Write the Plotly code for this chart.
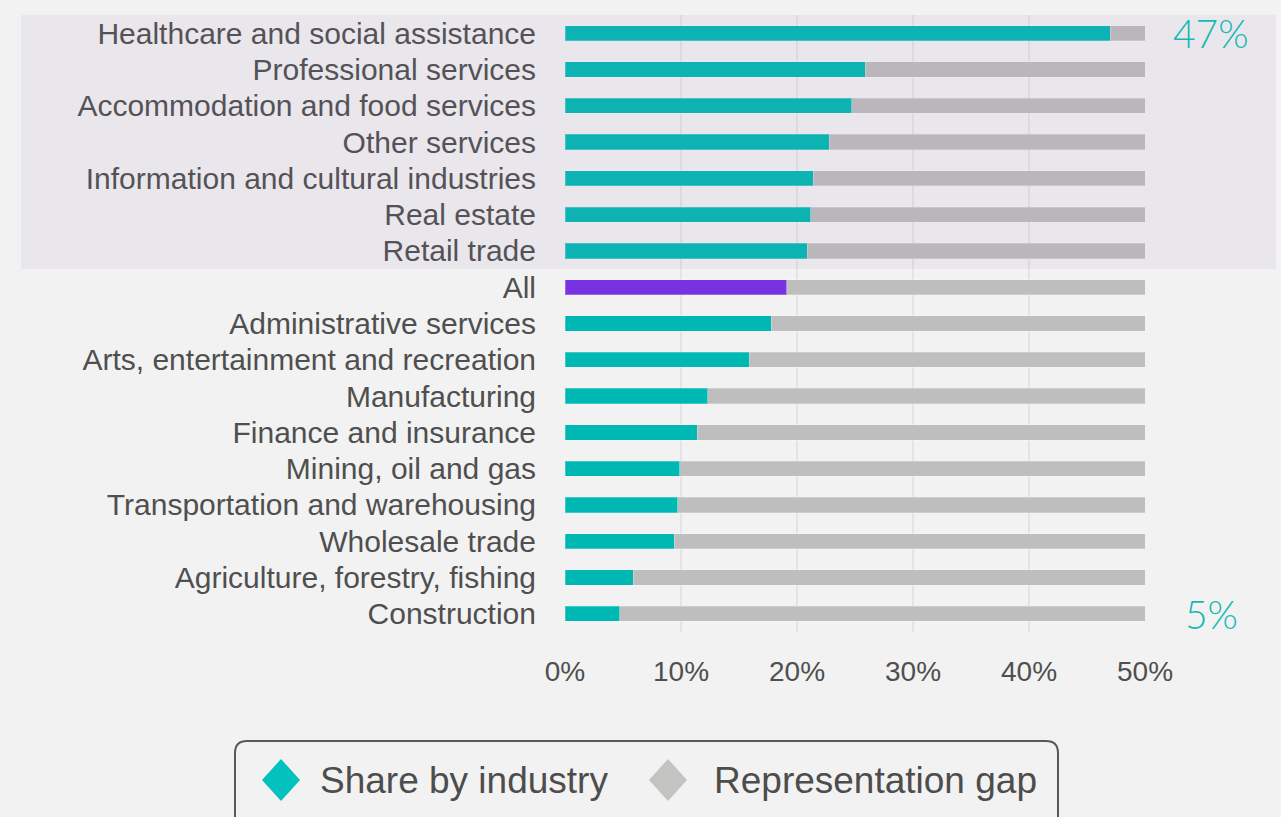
import plotly.graph_objects as go

categories = [
    "Healthcare and social assistance", "Professional services", "Accommodation and food services",
    "Other services", "Information and cultural industries", "Real estate", "Retail trade", "All",
    "Administrative services", "Arts, entertainment and recreation", "Manufacturing",
    "Finance and insurance", "Mining, oil and gas", "Transportation and warehousing",
    "Wholesale trade", "Agriculture, forestry, fishing", "Construction",
]
share = [47.0, 25.9, 24.7, 22.8, 21.4, 21.2, 20.9, 19.1, 17.8, 15.9, 12.3, 11.4, 9.9, 9.7, 9.4, 5.9, 4.7]
total = 50
gap = [round(total - s, 1) for s in share]
x_ticks = [0, 10, 20, 30, 40, 50]
x_tick_labels = ["0%", "10%", "20%", "30%", "40%", "50%"]
callouts = [("Healthcare and social assistance", "47%"), ("Construction", "5%")]
legend_names = ["Share by industry", "Representation gap"]

TEAL = "#00b8b3"
PURPLE = "#7733e2"
GRAY = "#bebebe"
W, H = 1281, 817
L, R, T, B = 565, 136, 15, 185
pw, ph = W - L - R, H - T - B
n = len(categories)

def px_x(p):
    return (p - L) / pw

def px_y(p):
    return (H - B - p) / ph

share_colors = [PURPLE if c == "All" else TEAL for c in categories]

fig = go.Figure()
fig.add_trace(go.Bar(
    y=categories, x=share, orientation="h", name=legend_names[0],
    marker=dict(color=share_colors, line=dict(color="rgba(255,255,255,0.25)", width=1)),
    showlegend=False, hoverinfo="x+y",
))
fig.add_trace(go.Bar(
    y=categories, x=gap, orientation="h", name=legend_names[1],
    marker=dict(color=GRAY, line=dict(color="rgba(255,255,255,0.25)", width=1)),
    showlegend=False, hoverinfo="x+y",
))

# shaded overlay for top group
fig.add_shape(type="rect", xref="paper", yref="y",
              x0=px_x(21), x1=px_x(1276), y0=6.5, y1=-0.5 - (T - 4) / (ph / n),
              fillcolor="rgba(140,125,180,0.09)", line=dict(width=0), layer="above")

# rounded legend box
x0, x1, y0, y1, r = 235, 1058, 741, 830, 12
path = (f"M {px_x(x0 + r)} {px_y(y0)} L {px_x(x1 - r)} {px_y(y0)} "
        f"Q {px_x(x1)} {px_y(y0)} {px_x(x1)} {px_y(y0 + r)} "
        f"L {px_x(x1)} {px_y(y1)} L {px_x(x0)} {px_y(y1)} L {px_x(x0)} {px_y(y0 + r)} "
        f"Q {px_x(x0)} {px_y(y0)} {px_x(x0 + r)} {px_y(y0)} Z")
fig.add_shape(type="path", xref="paper", yref="paper", path=path,
              line=dict(color="#595959", width=2), fillcolor="rgba(0,0,0,0)")

# legend diamonds + labels
legend_items = [(legend_names[0], "#03c1bc", 281, 318), (legend_names[1], "#c3c3c1", 668, 712)]
cy = 780
for name, col, cx, tx in legend_items:
    hw, hh = 19, 21
    d = (f"M {px_x(cx)} {px_y(cy - hh)} L {px_x(cx + hw)} {px_y(cy)} "
         f"L {px_x(cx)} {px_y(cy + hh)} L {px_x(cx - hw)} {px_y(cy)} Z")
    fig.add_shape(type="path", xref="paper", yref="paper", path=d,
                  fillcolor=col, line=dict(width=0))
    fig.add_annotation(x=px_x(tx), y=px_y(cy), xref="paper", yref="paper", text=name,
                       showarrow=False, xanchor="left", yanchor="middle",
                       font=dict(size=37, color="#4d4d4d"))

for cat, txt in callouts:
    fig.add_annotation(x=px_x(1211), xref="paper", y=cat, yref="y", text=txt, showarrow=False,
                       font=dict(family="Lato, Open Sans, sans-serif", size=39, color="#14b9b4", weight=300),
                       xanchor="center", yanchor="middle")

fig.update_layout(
    width=W, height=H,
    barmode="stack", bargap=0.58,
    paper_bgcolor="#f2f2f2", plot_bgcolor="#f2f2f2",
    margin=dict(l=L, r=R, t=T, b=B, autoexpand=False),
    font=dict(family="Liberation Sans, Arial, sans-serif", size=30, color="#4f4f4f"),
    xaxis=dict(range=[0, total], tickvals=x_ticks, ticktext=x_tick_labels, showgrid=True,
               gridcolor="#e4e4e4", gridwidth=2, zeroline=False, showline=False,
               ticklabelstandoff=20, tickfont=dict(size=28), fixedrange=True),
    yaxis=dict(categoryorder="array", categoryarray=categories, range=[n - 0.5, -0.5],
               autorange=False, showgrid=False, ticklabelstandoff=28, showline=False,
               fixedrange=True),
    showlegend=False,
)

fig.write_html("out.html", config={"displayModeBar": False},
               post_script="document.body.style.margin='0';")
